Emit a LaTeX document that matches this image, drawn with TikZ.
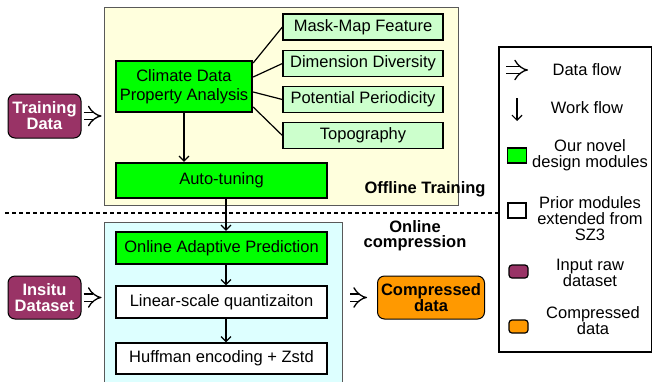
\documentclass[tikz,border=0pt]{standalone}
\usepackage{fontspec}
\setmainfont{Liberation Sans}
\usetikzlibrary{arrows.meta}
\definecolor{ylw}{HTML}{FFFFDD}
\definecolor{cyn}{HTML}{DDFFFF}
\definecolor{novelgreen}{HTML}{00FF00}
\definecolor{featgreen}{HTML}{CCFFCC}
\definecolor{maroon}{HTML}{993366}
\definecolor{orng}{HTML}{FF9900}
\begin{document}
\begin{tikzpicture}[x=1pt,y=-1pt,
  font=\fontsize{16.5}{19}\selectfont,
  region/.style={draw=black!65, line width=0.8pt, inner sep=0pt},
  novel/.style={draw, line width=2.3pt, fill=novelgreen, inner sep=0pt, align=center},
  feat/.style={draw, line width=1.2pt, fill=featgreen, inner sep=0pt, minimum width=160pt, minimum height=26pt},
  prior/.style={draw, line width=1.2pt, fill=white, inner sep=0pt, align=center},
  rawdata/.style={draw, line width=1pt, rounded corners=7pt, fill=maroon, text=white, inner sep=0pt,
    align=center, font=\fontsize{16.5}{16}\selectfont\bfseries},
  outdata/.style={draw, line width=1pt, rounded corners=7pt, fill=orng, text=black, inner sep=0pt,
    align=center, font=\fontsize{16.5}{16}\selectfont\bfseries},
  work/.style={-{Straight Barb[length=5pt,width=10pt]}, line width=1.2pt},
  dataflow/.style={double, double distance=6pt, line width=1.3pt, -{Implies}},
  legtext/.style={align=center, inner sep=0pt, font=\fontsize{16.5}{16}\selectfont},
  tag/.style={align=center, inner sep=0pt, font=\fontsize{16.5}{15}\selectfont\bfseries}
]
\useasboundingbox (0,0) rectangle (652,381);
% regions
\node[region, fill=ylw, minimum width=354pt, minimum height=198pt] (offline) at (281,106) {};
\node[region, fill=cyn, minimum width=238pt, minimum height=180pt] (online) at (223,312) {};
% offline modules
\node[novel, minimum width=136pt, minimum height=51pt] (climate) at (184,86.5) {Climate Data\\Property Analysis};
\node[feat] (mask) at (363,27) {Mask-Map Feature};
\node[feat] (dim) at (363,63.5) {Dimension Diversity};
\node[feat] (pot) at (363,99.5) {Potential Periodicity};
\node[feat] (topo) at (363,135.5) {Topography};
\node[novel, minimum width=211pt, minimum height=35pt] (auto) at (221.5,180.5) {Auto-tuning};
\draw[line width=1.2pt] ([yshift=23.5pt]climate.east) -- (mask.west);
\draw[line width=1.2pt] ([yshift=9.5pt]climate.east) -- (dim.west);
\draw[line width=1.2pt] ([yshift=-5.5pt]climate.east) -- (pot.west);
\draw[line width=1.2pt] ([yshift=-20.5pt]climate.east) -- (topo.west);
\draw[work] (climate.south) -- (climate.south |- auto.north);
% online modules
\node[novel, minimum width=211pt, minimum height=32pt] (adapt) at (221.5,248) {Online Adaptive Prediction};
\node[prior, minimum width=211pt, minimum height=32pt] (linear) at (221.5,302) {Linear-scale quantizaiton};
\node[prior, minimum width=211pt, minimum height=31pt] (huff) at (221.5,358.5) {Huffman encoding + Zstd};
\draw[work] ([xshift=4.5pt]auto.south) -- ([xshift=4.5pt]adapt.north);
\draw[work] ([xshift=4.5pt]adapt.south) -- ([xshift=4.5pt]linear.north);
\draw[work] ([xshift=4.5pt]linear.south) -- ([xshift=4.5pt]huff.north);
% inputs / outputs
\node[rawdata, minimum width=73pt, minimum height=44pt] (train) at (44.5,116) {Training\\Data};
\node[rawdata, minimum width=73pt, minimum height=43pt] (insitu) at (44.5,297.5) {Insitu\\Dataset};
\node[outdata, minimum width=107pt, minimum height=43pt] (comp) at (431,297.5) {Compressed\\data};
\draw[dataflow, shorten <=2pt, shorten >=2pt] (train.east) -- (train.east -| offline.west);
\draw[dataflow, shorten <=2pt, shorten >=2pt] (insitu.east) -- (insitu.east -| online.west);
\draw[dataflow, shorten <=8pt, shorten >=10pt] (comp.west -| online.east) -- (comp.west);
% tags
\node[tag] (offtag) at (425,189) {Offline Training};
\node[tag] (ontag) at (415,236) {Online\\compression};
% legend
\node[draw, line width=1.2pt, minimum width=153pt, minimum height=305pt, inner sep=0pt] (legend) at (575.5,199.5) {};
\coordinate (dl) at (5,213);
\coordinate (dr) at (legend.west |- dl);
\draw[line width=2pt, dash pattern=on 4pt off 3pt] (dl) -- (dr);
\coordinate (l1a) at (506,70);
\coordinate (l1b) at (528,70);
\draw[dataflow] (l1a) -- (l1b);
\node[legtext] (t1) at (587,70) {Data flow};
\coordinate (l2a) at (517,98);
\coordinate (l2b) at (517,121);
\draw[work] (l2a) -- (l2b);
\node[legtext] (t2) at (587,108) {Work flow};
\node[draw, line width=1.5pt, fill=novelgreen, minimum width=19pt, minimum height=15pt, inner sep=0pt] (s3) at (517,155.5) {};
\node[legtext] (t3) at (590,155) {Our novel\\design modules};
\node[draw, line width=1.5pt, fill=white, minimum width=18pt, minimum height=15pt, inner sep=0pt] (s4) at (517,210.5) {};
\node[legtext] (t4) at (590,219) {Prior modules\\extended from\\SZ3};
\node[draw, line width=1.2pt, fill=maroon, rounded corners=3pt, minimum width=19pt, minimum height=13pt, inner sep=0pt] (s5) at (518.5,271.5) {};
\node[legtext] (t5) at (590,273) {Input raw\\dataset};
\node[draw, line width=1.2pt, fill=orng, rounded corners=3pt, minimum width=19pt, minimum height=13pt, inner sep=0pt] (s6) at (518.5,326.5) {};
\node[legtext] (t6) at (593,321) {Compressed\\data};
\end{tikzpicture}
\end{document}
